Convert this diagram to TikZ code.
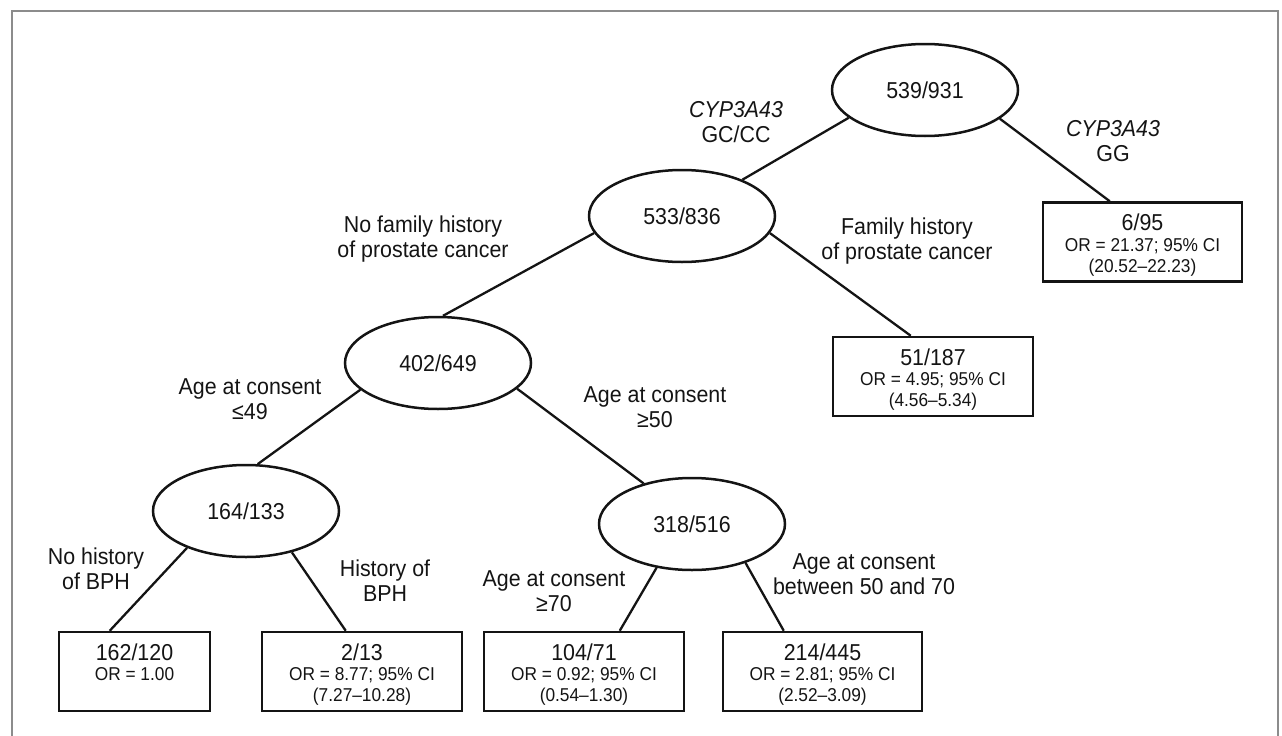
\documentclass[tikz,border=0pt]{standalone}
\usepackage{fontspec}
\setmainfont{Liberation Sans}[FakeStretch=0.93]
\usetikzlibrary{shapes.geometric}

\definecolor{framegray}{HTML}{8C8C8C}
\definecolor{ink}{HTML}{141414}

% Leaf box contents: width, case/control count, odds ratio, confidence interval
\newcommand{\leafbody}[4]{%
  \begin{minipage}[c][79pt][t]{#1}\centering
    {\fontsize{23pt}{20.7pt}\selectfont\rule{0pt}{28.2pt}#2\par}
    {\fontsize{18.6pt}{20.7pt}\selectfont #3\par #4\par}
  \end{minipage}}

\tikzset{
  split/.style={draw=ink, text=ink, ellipse, line width=2.5pt, minimum width=186pt,
    minimum height=92pt, inner sep=0pt, font=\fontsize{23pt}{25pt}\selectfont},
  leaf/.style={draw=ink, text=ink, rectangle, line width=2.5pt, inner sep=0pt},
  cond/.style={text=ink, align=center, inner sep=0pt,
    font=\fontsize{23pt}{25pt}\selectfont},
  link/.style={draw=ink, line width=2.3pt},
  frameline/.style={draw=framegray, line width=2.6pt}
}

\begin{document}
\begin{tikzpicture}[x=1pt,y=-1pt]
\useasboundingbox (0,0) rectangle (1282,736);

% open frame around the tree
\draw[frameline] (12,736) -- (12,11) -- (1278,11) -- (1278,736);

% split nodes
\node[split] (n1) at (925,90)  {539/931};
\node[split] (n2) at (682,216) {533/836};
\node[split] (n3) at (438,363) {402/649};
\node[split] (n4) at (246,511) {164/133};
\node[split] (n5) at (692,524) {318/516};

% terminal groups
\node[leaf] (b1) at (1142.5,242) {\leafbody{199pt}{6/95}{OR = 21.37; 95\% CI}{(20.52–22.23)}};
\node[leaf] (b2) at (933,376.5)  {\leafbody{200pt}{51/187}{OR = 4.95; 95\% CI}{(4.56–5.34)}};
\node[leaf] (b3) at (134.5,671.5) {\leafbody{151pt}{162/120}{OR = 1.00}{}};
\node[leaf] (b4) at (362,671.5)  {\leafbody{200pt}{2/13}{OR = 8.77; 95\% CI}{(7.27–10.28)}};
\node[leaf] (b5) at (584,671.5)  {\leafbody{200pt}{104/71}{OR = 0.92; 95\% CI}{(0.54–1.30)}};
\node[leaf] (b6) at (822.5,671.5) {\leafbody{199pt}{214/445}{OR = 2.81; 95\% CI}{(2.52–3.09)}};

% branches
\draw[link] (n1.200) -- (n2.31);
\draw[link] (n1.-21) -- ([xshift=68pt]b1.north west);
\draw[link] (n2.191) -- (n3.84);
\draw[link] (n2.-11) -- ([xshift=79pt]b2.north west);
\draw[link] (n3.199) -- (n4.76);
\draw[link] (n3.-18) -- (n5.140);
\draw[link] (n4.212) -- ([xshift=52pt]b3.north west);
\draw[link] (n4.-42) -- ([xshift=85pt]b4.north west);
\draw[link] (n5.231) -- ([xshift=137pt]b5.north west);
\draw[link] (n5.-36) -- ([xshift=62pt]b6.north west);

% split conditions
\node[cond] (c1)  at (736,122)  {\textit{CYP3A43}\\GC/CC};
\node[cond] (c2)  at (1113,141) {\textit{CYP3A43}\\GG};
\node[cond] (c3)  at (423,239)  {No family history\\of prostate cancer};
\node[cond] (c4)  at (907,241)  {Family history\\of prostate cancer};
\node[cond] (c5)  at (250,399)  {Age at consent\\≤49};
\node[cond] (c6)  at (655,407)  {Age at consent\\≥50};
\node[cond] (c7)  at (96,569)   {No history\\of BPH};
\node[cond] (c8)  at (385,581)  {History of\\BPH};
\node[cond] (c9)  at (554,591)  {Age at consent\\≥70};
\node[cond] (c10) at (864,574)  {Age at consent\\between 50 and 70};
\end{tikzpicture}
\end{document}
